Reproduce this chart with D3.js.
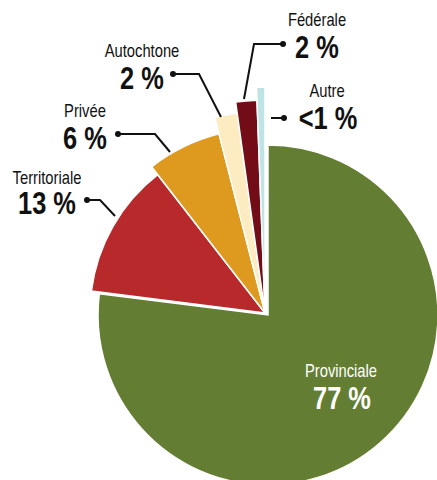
<!DOCTYPE html>
<html>
<head>
<meta charset="utf-8">
<script src="https://cdn.jsdelivr.net/npm/d3@7"></script>
<style>
  body { margin: 0; background: #fff; }
  svg text { font-family: "Liberation Sans", Arial, sans-serif; }
</style>
</head>
<body>
<script>
// Répartition par type de propriété
const categories = ["Provinciale", "Territoriale", "Privée", "Autochtone", "Fédérale", "Autre"];
const shares = [77, 12.5, 6.5, 1.8, 1.6, 0.6];
const valueLabels = ["77 %", "13 %", "6 %", "2 %", "2 %", "<1 %"];

const colors = ["#637d32", "#b8292b", "#de991f", "#fdebc1", "#720d18", "#bfe4e6"];

const width = 437, height = 480;
const narrow = 0.82; // no condensed font installed, so squeeze horizontally

// each small slice sticks out a bit further than the one before it
const outerR = [170, 175, 185, 202, 213, 226];
const centers = [[268, 315], [265, 313], [265, 313], [265, 313], [265, 313], [265, 313]];

// label layout: name position, value position, leader line
const labelPos = [
  { name: [341, 377], value: [342, 409], fill: "#fff", line: null },
  { name: [47, 184], value: [47, 214], fill: "#111", line: [[87, 200], [100, 200], [115, 216]], dot: 0 },
  { name: [85, 117], value: [85, 149], fill: "#111", line: [[118, 134], [155, 134], [170, 152]], dot: 0 },
  { name: [142, 57], value: [142, 89], fill: "#111", line: [[173, 74], [199, 74], [221, 117]], dot: 0 },
  { name: [317, 26], value: [317, 58], fill: "#111", line: [[283, 44], [254, 44], [244, 99]], dot: 0 },
  { name: [327, 97], value: [328, 129], fill: "#111", line: [[271, 118], [284, 118]], dot: 1 }
];

const svg = d3.select("body").append("svg")
  .attr("width", width)
  .attr("height", height);

const data = categories.map((c, i) => ({ name: c, share: shares[i], label: valueLabels[i], i: i }));

const pie = d3.pie()
  .sort(null)
  .value(d => d.share)
  .startAngle(0)
  .endAngle(2 * Math.PI);

const arcs = pie(data);

const arc = d3.arc()
  .innerRadius(0)
  .outerRadius(d => outerR[d.data.i]);

svg.selectAll(".slice")
  .data(arcs)
  .enter().append("path")
  .attr("class", "slice")
  .attr("transform", d => `translate(${centers[d.data.i][0]},${centers[d.data.i][1]})`)
  .attr("d", arc)
  .style("fill", d => colors[d.data.i])
  .style("stroke", "#fff")
  .style("stroke-width", 1.5)
  .style("stroke-linejoin", "miter");

// leader lines
const line = d3.line();
labelPos.forEach(p => {
  if (!p.line) return;
  svg.append("path")
    .attr("d", line(p.line))
    .style("fill", "none")
    .style("stroke", "#111")
    .style("stroke-width", 2);
  const dot = p.line[p.dot];
  svg.append("circle")
    .attr("cx", dot[0])
    .attr("cy", dot[1])
    .attr("r", 3)
    .style("fill", "#111");
});

// names
svg.selectAll(".name")
  .data(data)
  .enter().append("text")
  .attr("class", "name")
  .attr("transform", d => `translate(${labelPos[d.i].name[0]},${labelPos[d.i].name[1]}) scale(${narrow},1)`)
  .attr("text-anchor", "middle")
  .style("font-size", "18px")
  .style("fill", d => labelPos[d.i].fill)
  .text(d => d.name);

// values
svg.selectAll(".value")
  .data(data)
  .enter().append("text")
  .attr("class", "value")
  .attr("transform", d => `translate(${labelPos[d.i].value[0]},${labelPos[d.i].value[1]}) scale(${narrow},1)`)
  .attr("text-anchor", "middle")
  .style("font-size", "31px")
  .style("font-weight", "bold")
  .style("fill", d => labelPos[d.i].fill)
  .text(d => d.label);
</script>
</body>
</html>
